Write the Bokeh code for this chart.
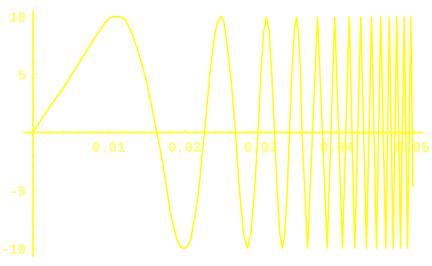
from bokeh.plotting import figure
from bokeh.models import Range1d
from bokeh.embed import file_html
from bokeh.resources import INLINE
from bokeh.core.properties import value

# ---- data ----
curve_x = [0.00000, 0.00187, 0.00405, 0.00625, 0.00845, 0.00976, 0.01033, 0.01099,
           0.01160, 0.01217,
           0.01305, 0.01392, 0.01480, 0.01546, 0.01599, 0.01630,
           0.01678, 0.01743, 0.01809, 0.01897, 0.01941, 0.01987, 0.02026, 0.02072,
           0.02138, 0.02195, 0.02230, 0.02257,
           0.02296, 0.02336, 0.02401, 0.02441, 0.02480, 0.02513, 0.02546, 0.02612,
           0.02664,
           0.02717, 0.02770, 0.02822, 0.02868, 0.02914, 0.02961,
           0.02997, 0.03036, 0.03072, 0.03108, 0.03142, 0.03178,
           0.03213, 0.03247, 0.03283, 0.03313, 0.03345, 0.03375,
           0.03405, 0.03437, 0.03467, 0.03493, 0.03520, 0.03539,
           0.03612, 0.03678, 0.03743, 0.03809, 0.03871,
           0.03971, 0.04072, 0.04161, 0.04234, 0.04313, 0.04388, 0.04454, 0.04520,
           0.04576, 0.04642, 0.04687, 0.04739, 0.04787, 0.04836, 0.04884, 0.04928,
           0.04971, 0.05000]
curve_y = [0.0, 1.9, 3.9, 6.2, 8.5, 9.7, 9.95, 10.0,
           9.95, 9.7,
           8.5, 6.8, 4.77, 2.76, 1.03, 0.0,
           -1.6, -4.1, -7.0, -9.3, -9.85, -10.0, -9.85, -9.3,
           -7.0, -4.1, -1.6, 0.0,
           2.8, 5.6, 8.8, 9.7, 10.0, 9.5, 8.0, 4.2,
           0.0,
           -5.0, -8.7, -10.0, -8.7, -5.0, 0.0,
           5.0, 8.7, 10.0, 8.7, 5.0, 0.0,
           -5.0, -8.7, -10.0, -8.7, -5.0, 0.0,
           5.0, 8.7, 10.0, 8.7, 5.0, 0.0,
           -10.0, 0.0, 10.0, 0.0, -10.0,
           10.0, -10.0, 10.0, -10.0, 10.0, -10.0, 10.0, -10.0,
           10.0, -10.0, 10.0, -10.0, 10.0, -10.0, 10.0, -10.0,
           10.0, -4.7]

x_major_ticks = [0.01, 0.02, 0.03, 0.04, 0.05]
x_tick_labels = ["0.01", "0.02", "0.03", "0.04", "0.05"]
x_minor_ticks = [0.002, 0.004, 0.006, 0.008, 0.012, 0.014, 0.016, 0.018,
                 0.022, 0.024, 0.026, 0.028, 0.032, 0.034, 0.036, 0.038,
                 0.042, 0.044, 0.046, 0.048]
y_major_ticks = [-10, -5, 5, 10]
y_tick_labels = ["-10", "-5", "5", "10"]
y_minor_ticks = [-9, -8, -7, -6, -4, -3, -2, -1, 1, 2, 3, 4, 6, 7, 8, 9]

# ---- layout / style ----
W, H = 432, 266
PX_X = 7600.0      # pixels per x unit
PX_Y = 11.6        # pixels per y unit
X0_PX = 32.5       # pixel column of x = 0
Y0_PX = 132.0      # pixel row of y = 0

x_start = -X0_PX / PX_X
x_end = (W - X0_PX) / PX_X
y_end = Y0_PX / PX_Y
y_start = -(H - Y0_PX) / PX_Y

CURVE = "#FFFF00"
AXIS = "#FFFF33"
LABEL = "#FFFF77"

p = figure(width=W, height=H, output_backend="svg", toolbar_location=None,
           x_axis_location=None, y_axis_location=None,
           x_range=Range1d(x_start, x_end), y_range=Range1d(y_start, y_end),
           min_border=0, outline_line_color=None, background_fill_color="white",
           border_fill_color="white")
p.grid.visible = False

# axis lines
ax_x0, ax_x1 = -9.5 / PX_X, (423 - X0_PX) / PX_X
ax_y0, ax_y1 = -(256 - Y0_PX) / PX_Y, (Y0_PX - 10) / PX_Y
p.segment(x0=[ax_x0], y0=[0], x1=[ax_x1], y1=[0], line_color=AXIS, line_width=2)
p.segment(x0=[0], y0=[ax_y0], x1=[0], y1=[ax_y1], line_color=AXIS, line_width=2)

# ticks
p.segment(x0=x_major_ticks, y0=[0] * len(x_major_ticks), x1=x_major_ticks,
          y1=[3.0 / PX_Y] * len(x_major_ticks), line_color=AXIS, line_width=1)
p.segment(x0=x_minor_ticks, y0=[0] * len(x_minor_ticks), x1=x_minor_ticks,
          y1=[2.0 / PX_Y] * len(x_minor_ticks), line_color=AXIS, line_width=1)
p.segment(x0=[0] * len(y_major_ticks), y0=y_major_ticks,
          x1=[3.0 / PX_X] * len(y_major_ticks), y1=y_major_ticks, line_color=AXIS, line_width=1)
p.segment(x0=[0] * len(y_minor_ticks), y0=y_minor_ticks,
          x1=[2.0 / PX_X] * len(y_minor_ticks), y1=y_minor_ticks, line_color=AXIS, line_width=1)

# tick labels
p.text(x=x_major_ticks, y=[-14.0 / PX_Y] * len(x_major_ticks), text=x_tick_labels,
       text_align="center", text_baseline="middle", text_color=LABEL,
       text_font=value("Liberation Mono"), text_font_size="14px", text_font_style="bold")
p.text(x=[-6.5 / PX_X] * len(y_major_ticks), y=y_major_ticks, text=y_tick_labels,
       text_align="right", text_baseline="middle", text_color=LABEL,
       text_font=value("Liberation Mono"), text_font_size="14px", text_font_style="bold")

# curve
p.line(curve_x, curve_y, line_color=CURVE, line_width=1.5)

open("out.html", "w").write(file_html(p, INLINE))
